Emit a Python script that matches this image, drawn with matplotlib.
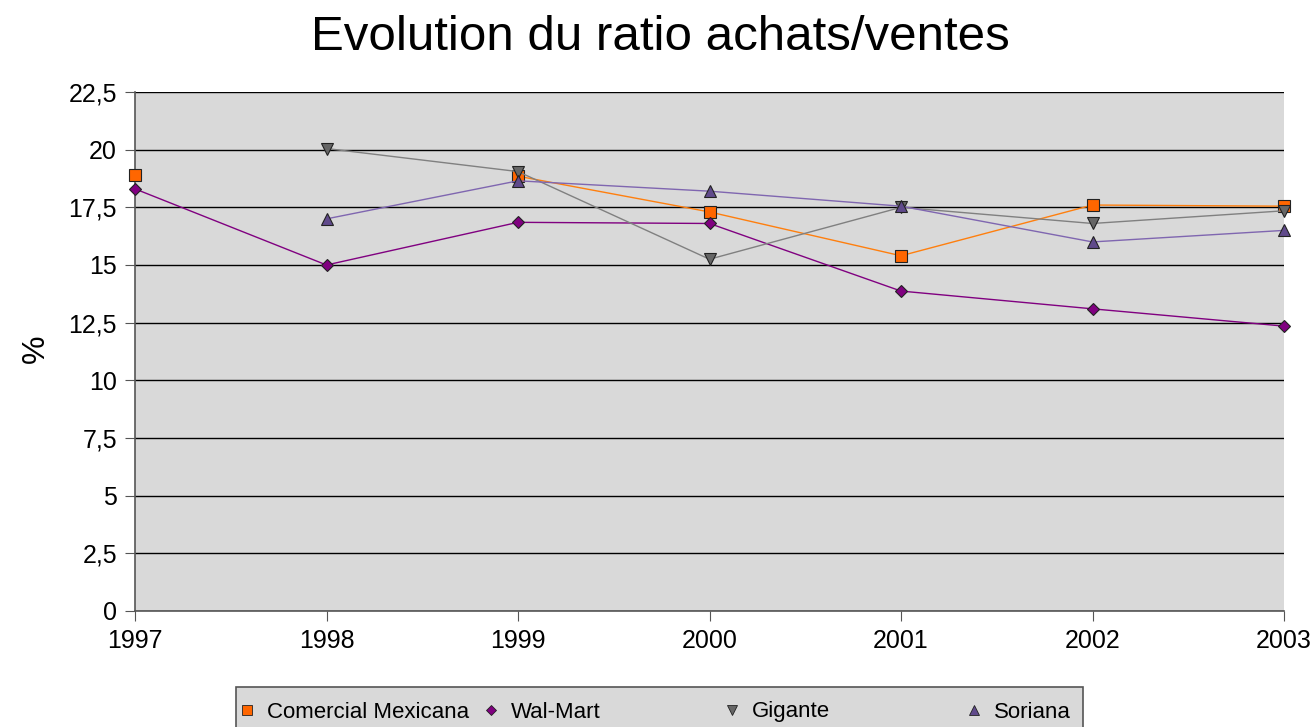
import numpy as np
import matplotlib.pyplot as plt
from matplotlib.patches import Rectangle
from matplotlib.lines import Line2D

plt.rcParams['font.family'] = ['Liberation Sans', 'DejaVu Sans']

annees = [1997, 1998, 1999, 2000, 2001, 2002, 2003]
comercial = [18.9, np.nan, 18.85, 17.3, 15.4, 17.6, 17.55]
walmart = [18.3, 15.0, 16.85, 16.8, 13.87, 13.1, 12.35]
gigante = [np.nan, 20.05, 19.05, 15.25, 17.5, 16.8, 17.35]
soriana = [np.nan, 17.0, 18.65, 18.2, 17.55, 16.0, 16.5]
yticks = [0, 2.5, 5, 7.5, 10, 12.5, 15, 17.5, 20, 22.5]
ylabels = ["0", "2,5", "5", "7,5", "10", "12,5", "15", "17,5", "20", "22,5"]

series = [
    ("Comercial Mexicana", comercial, "#ff7f0e", "#ff6600", "s", 8.5),
    ("Wal-Mart", walmart, "#800080", "#800080", "D", 6.5),
    ("Gigante", gigante, "#808080", "#666666", "v", 9),
    ("Soriana", soriana, "#7f66b0", "#604a8b", "^", 9),
]

fig = plt.figure(figsize=(13.15, 7.27), dpi=100)
ax = fig.add_axes([135/1315, 1-611/727, 1149/1315, 519/727])
ax.set_facecolor("#d9d9d9")

# les NaN coupent la ligne (pas de trait entre 1997 et 1999)
for nom, vals, lc, mc, mk, ms in series:
    ax.plot(annees, vals, color=lc, lw=1, marker=mk, markersize=ms,
            markerfacecolor=mc, markeredgecolor="#222222", markeredgewidth=0.8,
            clip_on=False, zorder=3)

ax.set_xlim(1997, 2003)
ax.set_ylim(0, 22.5)
ax.set_yticks(yticks)
ax.set_yticklabels(ylabels)
ax.set_xticks(annees)
ax.tick_params(labelsize=18, direction="out", length=7, color="#555555", pad=6)
ax.grid(axis="y", color="black", lw=1)
ax.set_axisbelow(True)
for s in ["top", "right"]:
    ax.spines[s].set_visible(False)
for s in ["left", "bottom"]:
    ax.spines[s].set_color("#555555")
    ax.spines[s].set_linewidth(1.2)
ax.set_ylabel("%", fontsize=23)
ax.yaxis.set_label_coords(-0.073, 0.505)

fig.text(0.502, 0.948, "Evolution du ratio achats/ventes", fontsize=35.5,
         ha="center", va="center")

# legende: cadre + 4 entrees a pas regulier
fig.patches.append(Rectangle((236/1315, -0.02), 847/1315, 0.075,
                             transform=fig.transFigure, facecolor="#d9d9d9",
                             edgecolor="#555555", lw=1.2, zorder=0))
positions = [238, 482, 723, 965]
for (nom, vals, lc, mc, mk, ms), px in zip(series, positions):
    h = Line2D([], [], ls="none", marker=mk, markersize=7 if mk != "D" else 5.5,
               markerfacecolor=mc, markeredgecolor="#222222", markeredgewidth=0.6)
    fig.legend([h], [nom], loc="center left",
               bbox_to_anchor=(px/1315, 1-712/727), frameon=False,
               fontsize=16, handlelength=0.8, handletextpad=0.5,
               borderpad=0, borderaxespad=0)

fig.savefig("out.png", dpi=100)
